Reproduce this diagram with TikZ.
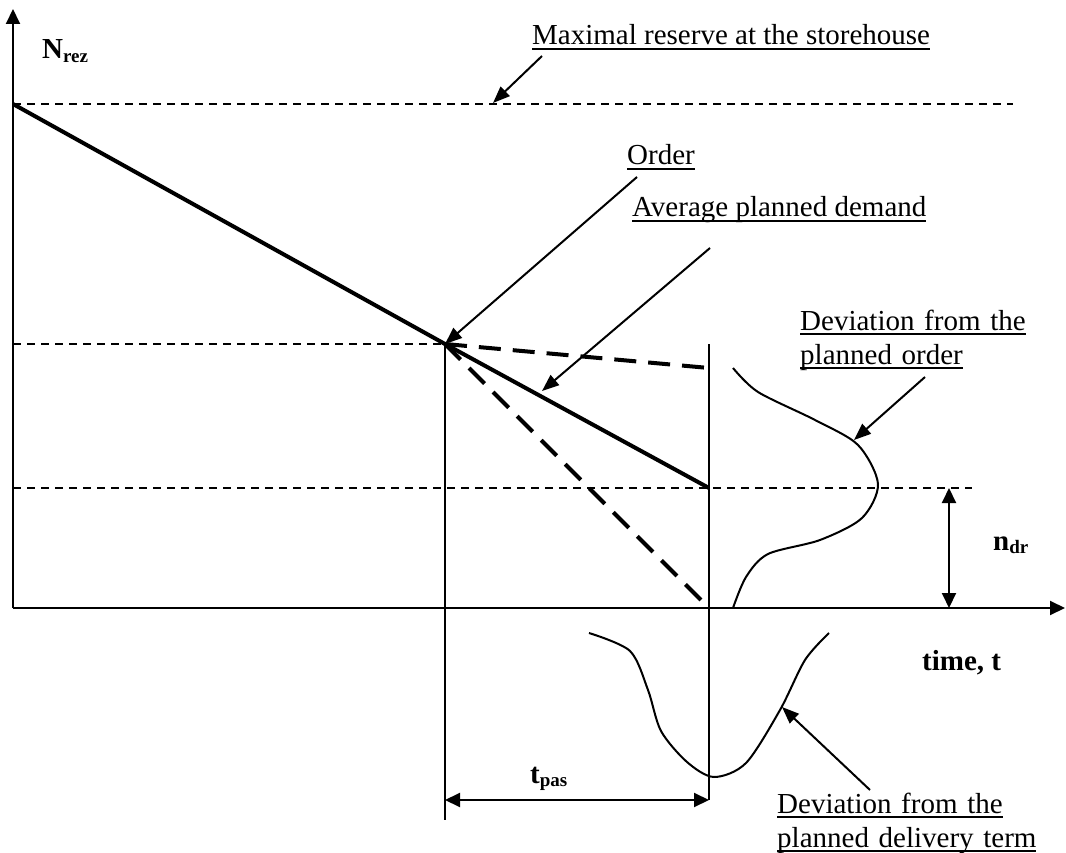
\documentclass[tikz,border=0pt]{standalone}
\usepackage{fontspec}
\setmainfont{Liberation Serif}
\usetikzlibrary{positioning,arrows.meta}
\newcommand{\ulin}[1]{\leavevmode\setbox0\hbox{#1}\rlap{\vrule width\wd0 height -3.2pt depth 5pt}\box0}
\newcommand{\sublbl}[2]{\textbf{#1\raisebox{-3.5pt}{\fontsize{19}{19}\selectfont #2}}}
\tikzset{
  lbl/.style={inner sep=0pt,anchor=base west,font=\fontsize{29}{34}\selectfont},
  axis/.style={line width=2pt,-{Triangle[length=15pt,width=14pt]}},
  callout/.style={line width=2pt,-{Triangle[length=17pt,width=13pt]}},
  dim/.style={line width=2pt,{Triangle[length=15pt,width=14pt]}-{Triangle[length=15pt,width=14pt]}},
  level/.style={line width=1.6pt,dash pattern=on 8pt off 6pt},
  bound/.style={line width=4pt,dash pattern=on 22pt off 12pt},
  demand/.style={line width=4pt},
  bell/.style={line width=2pt,smooth}
}
\begin{document}
\begin{tikzpicture}[x=1pt,y=-1pt]
  \useasboundingbox (0,0) rectangle (1066,853);
  % key points
  \coordinate (orig) at (13,608);
  \coordinate (ytop) at (13,9);
  \coordinate (xend) at (1065,608);
  \coordinate (full) at (13,104);
  \coordinate (O) at (445,344);
  \coordinate (hi) at (709,368);
  \coordinate (mid) at (709,488);
  \coordinate (lo) at (709,608);
  %% axes
  \draw[axis] (orig) -- (ytop);
  \draw[axis] (orig) -- (xend);
  %% levels
  \draw[level] (full) -- (1013,104);
  \draw[level] (13,344) -- (O);
  \draw[level] (13,488) -- (972,488);
  %% verticals
  \draw[line width=2pt] (O) -- (445,820);
  \draw[line width=2pt] (709,344) -- (709,800);
  %% consumption lines
  \draw[demand] (full) -- (O) -- (mid);
  \draw[bound] (O) -- (hi);
  \draw[bound] (O) -- (lo);
  %% deviation curves
  \draw[bell] plot coordinates {(733,368) (758,392) (815,420) (858,445) (878,484) (862,518) (820,540) (768,554) (746,577) (733,608)};
  \draw[bell] plot coordinates {(589,633) (630,651) (648,690) (661,731) (687,762) (714,777) (746,763) (780,710) (805,660) (829,633)};
  %% labels
  \node[lbl] (nrez) at (42,59) {\sublbl{N}{rez}};
  \node[lbl] (maxres) at (532,45) {\ulin{Maximal reserve at the storehouse}};
  \node[lbl] (order) at (627,165) {\ulin{Order}};
  \node[lbl] (avgdem) at (632,217) {\ulin{Average planned demand}};
  \node[lbl,text width=260pt,align=left] (devorder) at (800,330) {\ulin{Deviation from the}\\\ulin{planned order}};
  \node[lbl,text width=270pt,align=left] (devterm) at (777,813) {\ulin{Deviation from the}\\\ulin{planned delivery term}};
  \node[lbl] (ndr) at (993,550) {\sublbl{n}{dr}};
  \node[lbl] (timet) at (922,670) {\textbf{time, t}};
  \node[lbl] (tpas) at (530,783) {\sublbl{t}{pas}};
  %% callouts
  \draw[callout] (542,56) -- (493,103);
  \draw[callout] (637,177) -- (O);
  \draw[callout] (710,248) -- (542,391);
  \draw[callout] (925,377) -- (854,440);
  \draw[callout] (870,790) -- (782,707);
  %% dimensions
  \draw[dim] (949,488) -- (949,608);
  \draw[dim] (445,800) -- (709,800);
\end{tikzpicture}
\end{document}
